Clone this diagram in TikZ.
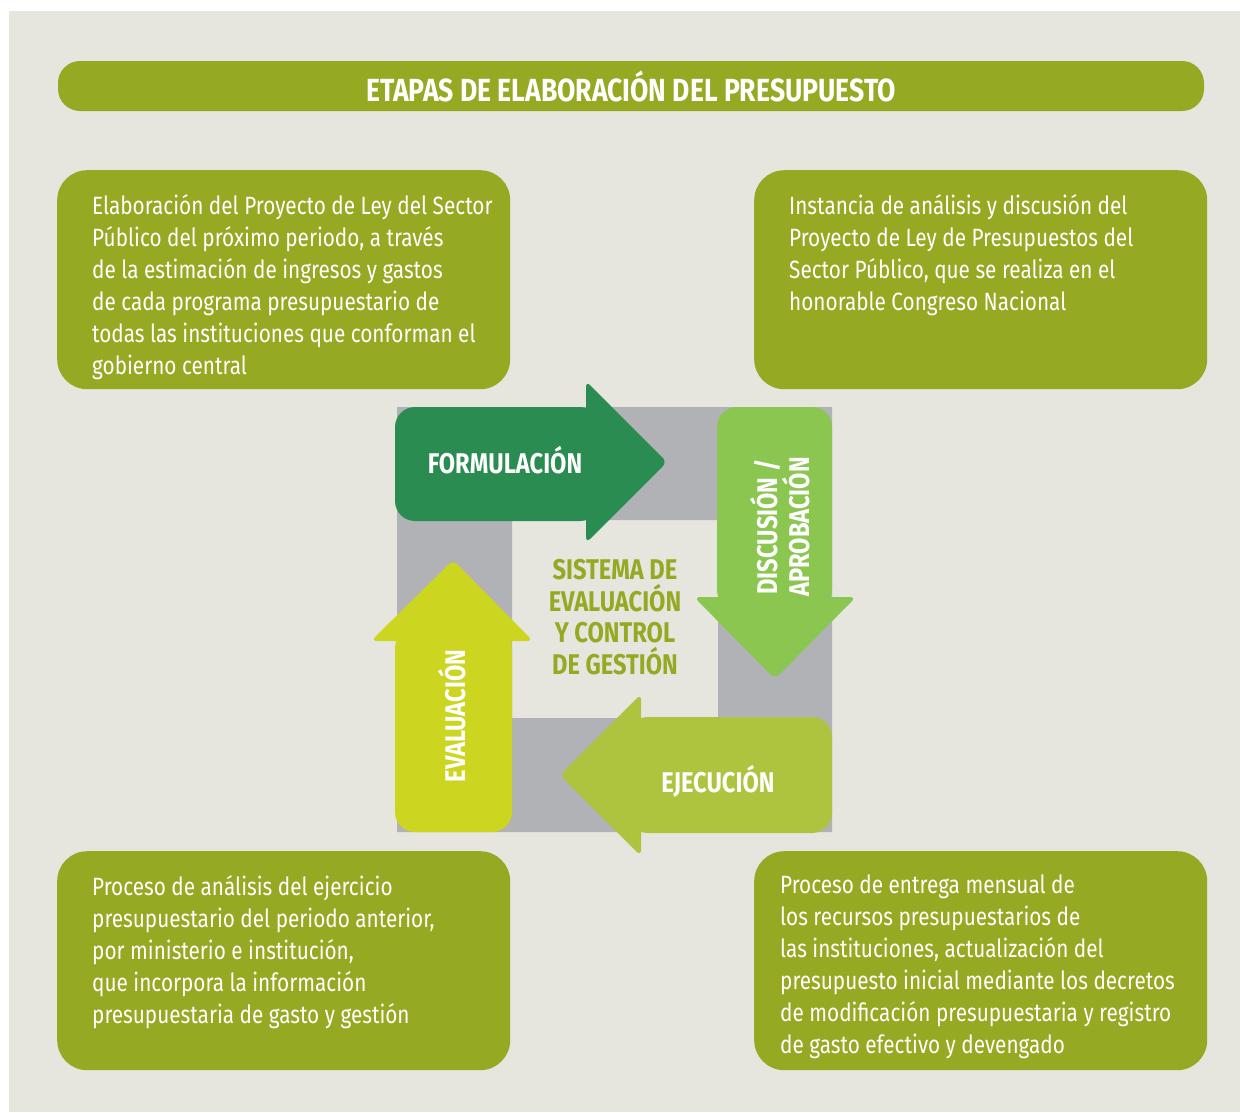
\documentclass[tikz,border=0pt]{standalone}
\usepackage{fontspec}
\setmainfont{Fira Sans}[FakeStretch=0.83]
\usetikzlibrary{positioning}

\definecolor{paper}{HTML}{E6E6DF}
\definecolor{boxgreen}{HTML}{95A923}
\definecolor{formcol}{HTML}{2A8C50}
\definecolor{disccol}{HTML}{8BC651}
\definecolor{ejeccol}{HTML}{AEC43F}
\definecolor{evalcol}{HTML}{CCD520}
\definecolor{framegray}{HTML}{B1B2B5}

\begin{document}
\begin{tikzpicture}[x=1pt,y=-1pt,
    textbox/.style={
        rectangle,
        fill=boxgreen,
        rounded corners=30pt,
        minimum width=453pt,
        minimum height=219pt,
        anchor=north west,
        inner sep=0pt
    },
    boxtext/.style={
        anchor=north west,
        inner sep=0pt,
        align=left,
        text=white,
        font=\fontsize{25}{32}\selectfont
    },
    steplabel/.style={
        text=white,
        inner sep=0pt,
        align=center,
        font=\fontsize{28.5}{30}\selectfont\bfseries
    },
    headtip/.style={rounded corners=6pt}
]
    \useasboundingbox (0,0) rectangle (1240,1112);
    \fill[paper] (9,11) rectangle (1240,1112);

    % title
    \node [fill=boxgreen, rounded corners=22pt, minimum width=1146pt, minimum height=50pt,
           text=white, font=\fontsize{32}{34}\selectfont\bfseries] (title) at (631,86)
        {ETAPAS DE ELABORACIÓN DEL PRESUPUESTO};

    % description boxes
    \node [textbox] (tl) at (57,170) {};
    \node [textbox] (tr) at (754,170) {};
    \node [textbox] (bl) at (57,851) {};
    \node [textbox] (br) at (754,851) {};

    \node [boxtext, below right=24pt and 35pt of tl.north west] (tltext)
        {Elaboración del Proyecto de Ley del Sector\\
         Público del próximo periodo, a través\\
         de la estimación de ingresos y gastos\\
         de cada programa presupuestario de\\
         todas las instituciones que conforman el\\
         gobierno central};
    \node [boxtext, below right=24pt and 35pt of tr.north west] (trtext)
        {Instancia de análisis y discusión del\\
         Proyecto de Ley de Presupuestos del\\
         Sector Público, que se realiza en el\\
         honorable Congreso Nacional};
    \node [boxtext, below right=24pt and 35pt of bl.north west] (bltext)
        {Proceso de análisis del ejercicio\\
         presupuestario del periodo anterior,\\
         por ministerio e institución,\\
         que incorpora la información\\
         presupuestaria de gasto y gestión};
    \node [boxtext, below right=24pt and 26pt of br.north west] (brtext)
        {Proceso de entrega mensual de\\
         los recursos presupuestarios de\\
         las instituciones, actualización del\\
         presupuesto inicial mediante los decretos\\
         de modificación presupuestaria y registro\\
         de gasto efectivo y devengado};

    % grey frame behind the cycle
    \fill[framegray, even odd rule] (397,407) rectangle (832,832) (512,520) rectangle (718,718);

    % formulacion
    \fill[formcol, rounded corners=20pt] (395,407) rectangle (600,521);
    \fill[formcol, headtip] (586,381) -- (667,462) -- (586,543) -- cycle;
    % discusion
    \fill[disccol, rounded corners=20pt] (717,407) rectangle (832,610);
    \fill[disccol, headtip] (694,597) -- (856,597) -- (775,679) -- cycle;
    % ejecucion
    \fill[ejeccol, rounded corners=20pt] (628,717) rectangle (832,833);
    \fill[ejeccol, headtip] (641,694) -- (641,856) -- (560,775) -- cycle;
    % evaluacion
    \fill[evalcol, rounded corners=20pt] (395,628) rectangle (512,832);
    \fill[evalcol, headtip] (371,641) -- (533,641) -- (453,560) -- cycle;

    \node [steplabel] (formul) at (505,460) {FORMULACIÓN};
    \node [steplabel, rotate=90] (discus) at (780,527) {DISCUSIÓN /\\APROBACIÓN};
    \node [steplabel] (ejecu) at (718,781) {EJECUCIÓN};
    \node [steplabel, rotate=90] (evalu) at (452,716) {EVALUACIÓN};

    \node [steplabel, text=boxgreen, font=\fontsize{28.5}{31.5}\selectfont\bfseries] (center) at (615,617)
        {SISTEMA DE\\EVALUACIÓN\\Y CONTROL\\DE GESTIÓN};
\end{tikzpicture}
\end{document}
